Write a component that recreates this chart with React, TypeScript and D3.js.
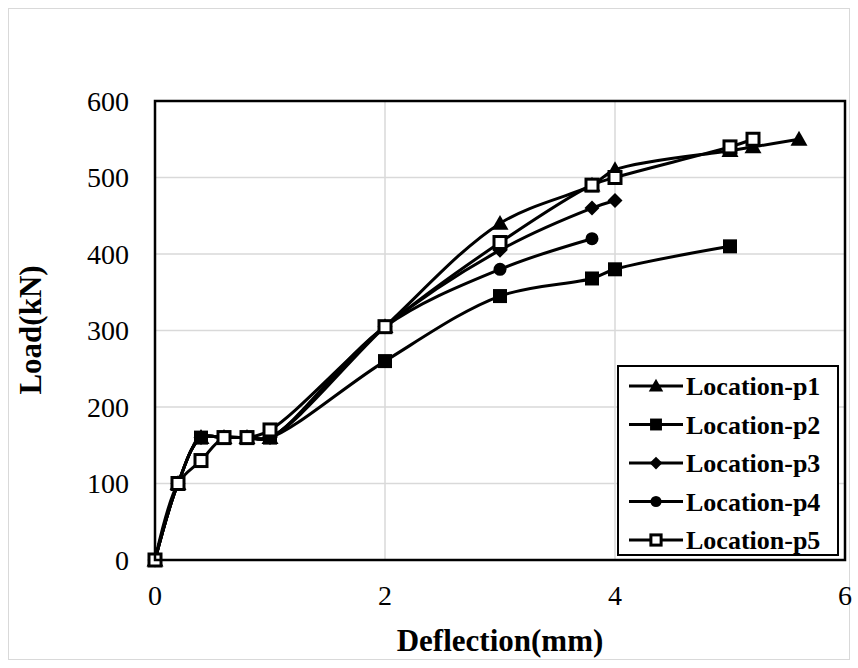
import React from 'react';
import * as d3 from 'd3';

// chart size and plot box
const width = 858;
const height = 668;
const margin = { top: 101, right: 13, bottom: 108, left: 155 };

// data (deflection mm, load kN)
const p1X = [0, 0.2, 0.4, 0.6, 0.8, 1.0, 2, 3, 3.8, 4, 5, 5.2, 5.6];
const p1Y = [0, 100, 160, 160, 160, 160, 305, 440, 490, 510, 535, 540, 550];
const p2X = [0, 0.2, 0.4, 0.6, 0.8, 1.0, 2, 3, 3.8, 4, 5];
const p2Y = [0, 100, 160, 160, 160, 160, 260, 345, 368, 380, 410];
const p3X = [0, 0.2, 0.4, 0.6, 0.8, 1.0, 2, 3, 3.8, 4];
const p3Y = [0, 100, 160, 160, 160, 160, 305, 405, 460, 470];
const p4X = [0, 0.2, 0.4, 0.6, 0.8, 1.0, 2, 3, 3.8];
const p4Y = [0, 100, 160, 160, 160, 160, 305, 380, 420];
const p5X = [0, 0.2, 0.4, 0.6, 0.8, 1.0, 2, 3, 3.8, 4, 5, 5.2];
const p5Y = [0, 100, 130, 160, 160, 170, 305, 415, 490, 500, 540, 550];

const seriesNames = ['Location-p1', 'Location-p2', 'Location-p3', 'Location-p4', 'Location-p5'];
const markerTypes = ['triangle', 'square', 'diamond', 'circle', 'open'];
const xTicks = [0, 2, 4, 6];
const yTicks = [0, 100, 200, 300, 400, 500, 600];

const series = [
  [p1X, p1Y], [p2X, p2Y], [p3X, p3Y], [p4X, p4Y], [p5X, p5Y],
].map(([xs, ys], i) => ({
  name: seriesNames[i],
  marker: markerTypes[i],
  points: xs.map((x, j) => ({ x, y: ys[j] })),
}));

const font = '"Liberation Serif", "Times New Roman", serif';

const Marker = ({ type, x, y, s = 1 }) => {
  if (type === 'triangle') {
    const r = 8.5 * s;
    return <path d={`M${x},${y - r}L${x + r},${y + r * 0.75}L${x - r},${y + r * 0.75}Z`} fill="#000" />;
  }
  if (type === 'square') {
    const r = 7 * s;
    return <rect x={x - r} y={y - r} width={2 * r} height={2 * r} fill="#000" />;
  }
  if (type === 'diamond') {
    const r = 7.5 * s;
    return <path d={`M${x},${y - r}L${x + r},${y}L${x},${y + r}L${x - r},${y}Z`} fill="#000" />;
  }
  if (type === 'circle') {
    return <circle cx={x} cy={y} r={6.5 * s} fill="#000" />;
  }
  const r = 6 * s;
  return <rect x={x - r} y={y - r} width={2 * r} height={2 * r} fill="#fff" stroke="#000" strokeWidth={3} />;
};

const App = () => {
  const innerW = width - margin.left - margin.right;
  const innerH = height - margin.top - margin.bottom;

  const xScale = d3.scaleLinear().domain([0, 6]).range([margin.left, margin.left + innerW]);
  const yScale = d3.scaleLinear().domain([0, 600]).range([margin.top + innerH, margin.top]);

  const line = d3.line()
    .x(d => xScale(d.x))
    .y(d => yScale(d.y))
    .curve(d3.curveCatmullRom.alpha(0.5));

  const legendX = 618;
  const legendY = 366;
  const legendRow = 38.5;

  return (
    <svg width={width} height={height} style={{ position: 'absolute', left: 0, top: 0, background: '#fff' }}>
      <rect x={8.5} y={8.5} width={841} height={651} fill="#fff" stroke="#d9d9d9" strokeWidth={1} />

      {/* grid */}
      {yTicks.slice(1, -1).map(t => (
        <line key={'gy' + t} x1={margin.left} x2={margin.left + innerW} y1={yScale(t)} y2={yScale(t)} stroke="#d9d9d9" strokeWidth={1.5} />
      ))}
      {xTicks.slice(1, -1).map(t => (
        <line key={'gx' + t} x1={xScale(t)} x2={xScale(t)} y1={margin.top} y2={margin.top + innerH} stroke="#d9d9d9" strokeWidth={1.5} />
      ))}

      {/* series */}
      {series.map(s => (
        <path key={s.name} d={line(s.points)} fill="none" stroke="#000" strokeWidth={3} />
      ))}
      {series.map(s => s.points.map((p, j) => (
        <Marker key={s.name + j} type={s.marker} x={xScale(p.x)} y={yScale(p.y)} />
      )))}

      {/* plot frame */}
      <rect x={margin.left} y={margin.top} width={innerW} height={innerH} fill="none" stroke="#000" strokeWidth={2.5} />

      {/* tick labels */}
      {yTicks.map(t => (
        <text key={'ty' + t} x={129} y={yScale(t)} dy="0.35em" textAnchor="end" fontFamily={font} fontSize={28}>{t}</text>
      ))}
      {xTicks.map(t => (
        <text key={'tx' + t} x={xScale(t)} y={605} textAnchor="middle" fontFamily={font} fontSize={28}>{t}</text>
      ))}

      {/* axis titles */}
      <text x={500} y={651} textAnchor="middle" fontFamily={font} fontSize={31} fontWeight="bold">Deflection(mm)</text>
      <text transform={`translate(41,${330}) rotate(-90)`} textAnchor="middle" fontFamily={font} fontSize={31} fontWeight="bold">Load(kN)</text>

      {/* legend */}
      <rect x={legendX} y={legendY} width={220} height={189} fill="#fff" stroke="#000" strokeWidth={2} />
      {series.map((s, i) => {
        const cy = legendY + 20 + i * legendRow;
        return (
          <g key={'lg' + s.name}>
            <line x1={629} x2={683} y1={cy} y2={cy} stroke="#000" strokeWidth={3} />
            <Marker type={s.marker} x={656} y={cy} s={0.85} />
            <text x={686} y={cy} dy="0.35em" fontFamily={font} fontSize={26} fontWeight="bold">{s.name}</text>
          </g>
        );
      })}
    </svg>
  );
};

export default App;
